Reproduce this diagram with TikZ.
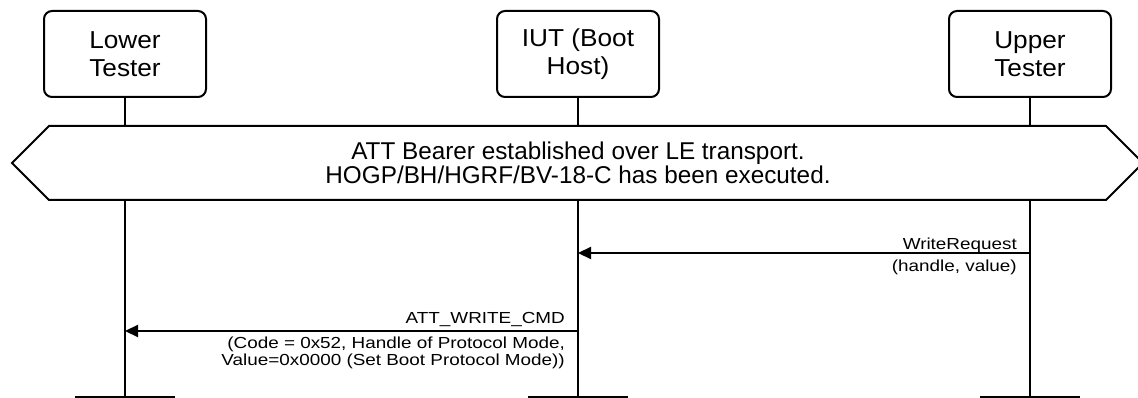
\documentclass[tikz,border=0pt]{standalone}
\usepackage{fontspec}
\setmainfont{Liberation Sans}
\newfontfamily\lblfont[FakeStretch=1.18]{Liberation Sans}
\newfontfamily\actfont[FakeStretch=1.07]{Liberation Sans}
\usetikzlibrary{arrows.meta}
\begin{document}
\begin{tikzpicture}[x=1pt,y=-1pt,
  actor/.style={draw,line width=2pt,rounded corners=8pt,minimum width=162pt,minimum height=86pt,align=center,inner sep=0pt,font=\actfont\fontsize{24.5}{28}\selectfont},
  life/.style={line width=2.5pt},
  cond/.style={line width=2pt,fill=white,line join=miter},
  condtext/.style={align=center,inner sep=0pt,font=\fontsize{24.3}{24}\selectfont},
  msg/.style={line width=2.2pt,-{Triangle[length=13pt,width=12pt]}},
  lbl/.style={inner sep=0pt,align=right,font=\lblfont\fontsize{16}{17}\selectfont}]
\useasboundingbox (0,0) rectangle (1138,398);
\clip (0,0) rectangle (1138,398);
% actors
\node[actor] (lt) at (125,54) {Lower\\Tester};
\node[actor] (iut) at (578,54) {IUT (Boot\\Host)};
\node[actor] (ut) at (1030,54) {Upper\\Tester};
% lifeline ends
\coordinate (ltb) at (125,397);
\coordinate (iutb) at (578,397);
\coordinate (utb) at (1030,397);
\draw[life] (lt.south) -- (ltb);
\draw[life] (iut.south) -- (iutb);
\draw[life] (ut.south) -- (utb);
\draw[life] ([xshift=-50pt]ltb) -- ([xshift=50pt]ltb);
\draw[life] ([xshift=-50pt]iutb) -- ([xshift=50pt]iutb);
\draw[life] ([xshift=-50pt]utb) -- ([xshift=50pt]utb);
% condition hexagon
\draw[cond] (12,163) -- (49,126) -- (1106,126) -- (1143,163) -- (1106,200) -- (49,200) -- cycle;
\node[condtext] (c1) at (578,163) {ATT Bearer established over LE transport.\\HOGP/BH/HGRF/BV-18-C has been executed.};
% message 1
\coordinate (m1s) at (1030,253);
\coordinate (m1e) at (578,253);
\draw[msg] (m1s) -- (m1e);
\node[lbl,anchor=base east] (m1a) at (1017,250) {WriteRequest};
\node[lbl,anchor=base east] (m1b) at (1017,271) {(handle, value)};
% message 2
\coordinate (m2s) at (578,331);
\coordinate (m2e) at (125,331);
\draw[msg] (m2s) -- (m2e);
\node[lbl,anchor=base east] (m2a) at (565,323) {ATT\_WRITE\_CMD};
\node[lbl,anchor=north east] (m2b) at (565,337) {(Code = 0x52, Handle of Protocol Mode,\\Value=0x0000 (Set Boot Protocol Mode))};
\end{tikzpicture}
\end{document}
